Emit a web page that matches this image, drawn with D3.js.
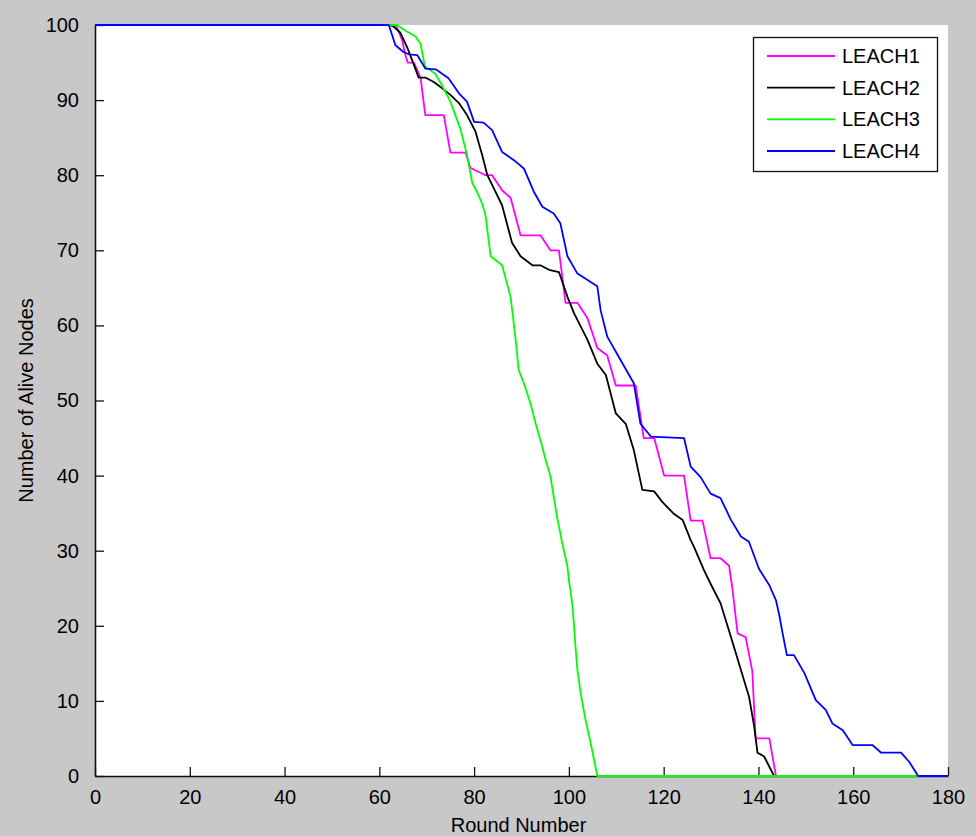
<!DOCTYPE html>
<html>
<head>
<meta charset="utf-8">
<script src="https://cdn.jsdelivr.net/npm/d3@7"></script>
<style>
  html, body { margin: 0; padding: 0; background: #c8c8c8; }
  svg { display: block; }
  text { font-family: "Liberation Sans", Arial, sans-serif; fill: #000; }
</style>
</head>
<body>
<svg id="chart" width="976" height="836"></svg>
<script>
// ---- Data ----
const seriesNames = ["LEACH1", "LEACH2", "LEACH3", "LEACH4"];
const seriesColors = ["#ff00ff", "#000000", "#00ff00", "#0000ff"];

const leach1Rounds = [0, 63.5, 64.8, 65.5, 66, 67.3, 68.7, 69.7, 73.6, 75, 78.2, 79.2, 82.4, 83.8, 85.9, 87.7, 89.8, 94, 96.1, 97.9, 99.3, 101.8, 103.9, 106, 108.1, 109.9, 114.1, 115.8, 118, 120.1, 124.3, 125.7, 128.2, 129.9, 132, 133.8, 134.5, 135.6, 137.3, 138.7, 139.4, 142.3, 143.7, 180];
const leach1Alive  = [100, 100, 98, 96, 95, 95, 93, 88, 88, 83, 83, 81, 80, 80, 78, 77, 72, 72, 70, 70, 63, 63, 61, 57, 56, 52, 52, 45, 45, 40, 40, 34, 34, 29, 29, 28, 25, 19, 18.5, 14, 5, 5, 0, 0];

const leach2Rounds = [0, 62, 63, 64.4, 65.9, 67.3, 68.3, 69.7, 71.5, 73.2, 75, 76.8, 78.5, 80.3, 81.7, 82.8, 84.5, 85.9, 88, 89.8, 92.3, 94, 95.8, 97.9, 99.7, 101.1, 103.9, 106, 107.8, 109.9, 112, 113.7, 115.5, 118, 119.7, 122, 124, 125.7, 126.4, 128.5, 129.9, 132, 134.2, 136.3, 138, 139.1, 139.8, 141.2, 143.3, 180];
const leach2Alive  = [100, 100, 99.8, 99, 97, 94.7, 93, 93, 92.4, 91.6, 90.7, 89.6, 88, 85.8, 82.7, 80, 77.8, 76, 71, 69.2, 68, 68, 67.4, 67.1, 63.8, 61.6, 58.1, 54.9, 53.4, 48.3, 46.9, 43.4, 38.1, 37.9, 36.5, 35, 34.1, 31.4, 30.5, 27.4, 25.6, 23, 18.5, 14.1, 10.6, 6.6, 3.1, 2.6, 0, 0];

const leach3Rounds = [0, 63.7, 65.9, 67.6, 68.7, 69.6, 71.8, 73.2, 75, 77.1, 78.5, 79.6, 80.6, 81.7, 82.4, 83.5, 85.9, 87.7, 88.7, 89.4, 90.5, 91.9, 93, 94, 95.1, 96.1, 96.8, 97.5, 98.6, 99.7, 100, 100.7, 101.1, 101.4, 101.8, 102.5, 103.5, 104.6, 106, 180];
const leach3Alive  = [100, 100, 99.1, 98.5, 97.5, 94.5, 93.5, 92, 89.8, 86.2, 82.7, 79, 77.8, 76.2, 74.7, 69.2, 68, 63.8, 58.5, 54.1, 52.3, 49.6, 46.9, 44.7, 42.1, 39.9, 37.2, 34.5, 31, 27.9, 26.1, 23, 19.9, 17.2, 14.1, 11, 7.5, 4.4, 0, 0];

const leach4Rounds = [0, 62, 63.4, 65.1, 66.2, 68, 69.7, 71.9, 74.6, 76.8, 78.5, 80, 82, 83.8, 85.9, 88.4, 90.5, 92.6, 94.4, 96.8, 98.2, 99.7, 101.8, 106, 106.7, 108.1, 110.9, 113.7, 115.1, 117.3, 124.3, 125.7, 127.8, 129.9, 132, 134.2, 136.3, 138, 140.1, 142.3, 143.7, 144.4, 145.1, 146, 147.5, 149.7, 152.1, 154.2, 155.6, 157.8, 159.9, 164.1, 165.9, 170.1, 171.8, 173.7, 180];
const leach4Alive  = [100, 100, 97.3, 96.4, 96.1, 96, 94.2, 94.1, 92.9, 90.9, 89.8, 87.1, 87, 86, 83.1, 82, 80.9, 77.8, 75.8, 74.9, 73.6, 69.2, 66.9, 65.2, 62, 58.5, 55.4, 52.3, 46.9, 45.2, 45, 41.2, 39.8, 37.6, 37, 34.1, 31.9, 31.2, 27.6, 25.4, 23.4, 21.4, 19, 16.1, 16.1, 13.7, 10.1, 8.8, 7, 6.1, 4.1, 4.1, 3.1, 3.1, 1.9, 0, 0];

const xTicks = [0, 20, 40, 60, 80, 100, 120, 140, 160, 180];
const yTicks = [0, 10, 20, 30, 40, 50, 60, 70, 80, 90, 100];
const xLabel = "Round Number";
const yLabel = "Number of Alive Nodes";

// ---- Layout ----
const plot = { left: 95, top: 25, right: 948, bottom: 776 };
const svg = d3.select("#chart");

const x = d3.scaleLinear().domain([0, 180]).range([plot.left, plot.right]);
const y = d3.scaleLinear().domain([0, 100]).range([plot.bottom, plot.top]);

// background
svg.append("rect").attr("x", 0).attr("y", 0).attr("width", 976).attr("height", 836).attr("fill", "#c8c8c8");
svg.append("rect")
  .attr("x", plot.left).attr("y", plot.top)
  .attr("width", plot.right - plot.left).attr("height", plot.bottom - plot.top)
  .attr("fill", "#ffffff");

// axes
const xAxis = d3.axisBottom(x).tickValues(xTicks).tickSizeInner(-9).tickSizeOuter(0).tickPadding(14);
const yAxis = d3.axisLeft(y).tickValues(yTicks).tickSizeInner(-9).tickSizeOuter(0).tickPadding(16);

const gx = svg.append("g").attr("transform", `translate(0,${plot.bottom})`).call(xAxis);
const gy = svg.append("g").attr("transform", `translate(${plot.left},0)`).call(yAxis);

[gx, gy].forEach(g => {
  g.select(".domain").attr("stroke", "#111").attr("stroke-width", 1.6);
  g.selectAll(".tick line").attr("stroke", "#111").attr("stroke-width", 1.3);
  g.selectAll(".tick text")
    .attr("font-family", '"Liberation Sans", Arial, sans-serif')
    .attr("font-size", 20)
    .attr("fill", "#000");
});

// axis labels
svg.append("text")
  .attr("x", (plot.left + plot.right) / 2 - 3)
  .attr("y", 832)
  .attr("text-anchor", "middle")
  .attr("font-size", 20)
  .text(xLabel);

svg.append("text")
  .attr("transform", `translate(33,${(plot.top + plot.bottom) / 2}) rotate(-90)`)
  .attr("text-anchor", "middle")
  .attr("font-size", 20)
  .text(yLabel);

// series
const roundsList = [leach1Rounds, leach2Rounds, leach3Rounds, leach4Rounds];
const aliveList = [leach1Alive, leach2Alive, leach3Alive, leach4Alive];

const line = d3.line().x(d => x(d[0])).y(d => y(d[1]));

seriesNames.forEach((name, i) => {
  const pts = roundsList[i].map((r, j) => [r, aliveList[i][j]]);
  svg.append("path")
    .datum(pts)
    .attr("fill", "none")
    .attr("stroke", seriesColors[i])
    .attr("stroke-width", 1.8)
    .attr("stroke-linejoin", "round")
    .attr("d", line);
});

// legend
const legend = svg.append("g");
legend.append("rect")
  .attr("x", 753.5).attr("y", 37.5)
  .attr("width", 184).attr("height", 134)
  .attr("fill", "#ffffff")
  .attr("stroke", "#111")
  .attr("stroke-width", 1.3);

const rowY = d3.scaleLinear().domain([0, 3]).range([56, 151]);
seriesNames.forEach((name, i) => {
  const yy = rowY(i);
  legend.append("line")
    .attr("x1", 767).attr("x2", 835)
    .attr("y1", yy).attr("y2", yy)
    .attr("stroke", seriesColors[i])
    .attr("stroke-width", 1.8);
  legend.append("text")
    .attr("x", 842).attr("y", yy)
    .attr("dy", "0.35em")
    .attr("font-size", 20)
    .text(name);
});
</script>
</body>
</html>
